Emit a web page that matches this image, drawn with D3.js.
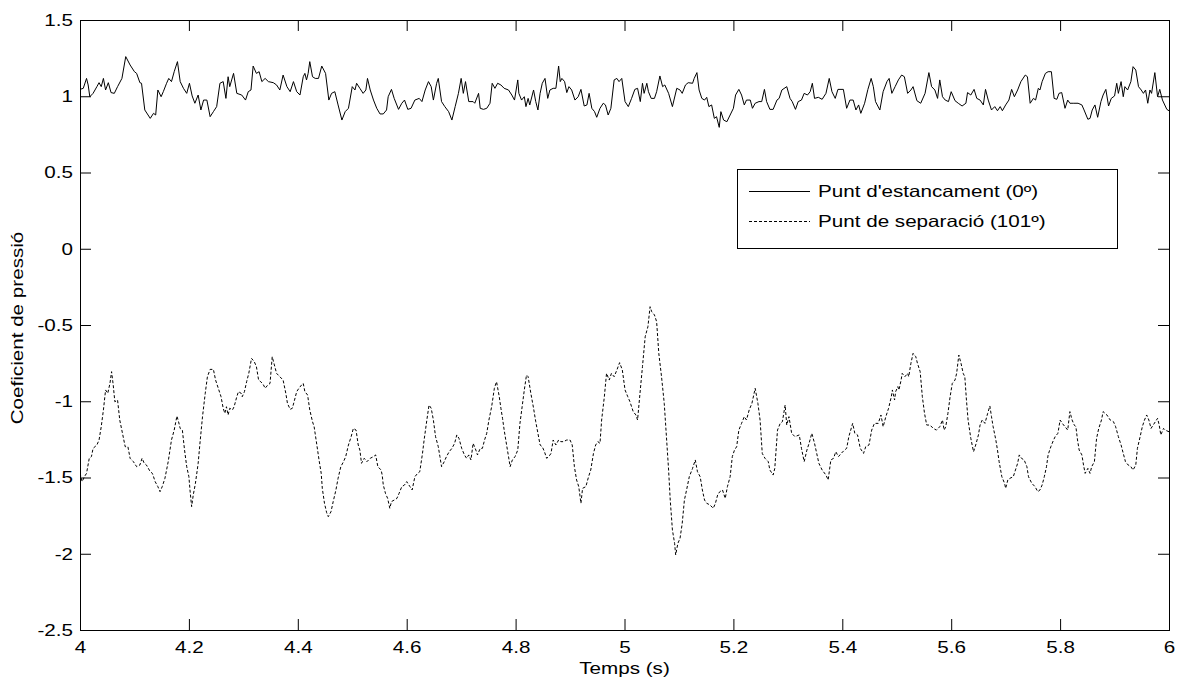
<!DOCTYPE html>
<html>
<head>
<meta charset="utf-8">
<script src="https://cdn.jsdelivr.net/npm/d3@7"></script>
<style>
  html, body { margin: 0; padding: 0; background: #fff; }
  svg { display: block; }
  text { font-family: Arial, "Liberation Sans", Helvetica, sans-serif; fill: #000; }
</style>
</head>
<body>
<svg id="chart" width="1177" height="681"></svg>
<script>
// ---------------- DATA ----------------
const xTicks = [4, 4.2, 4.4, 4.6, 4.8, 5, 5.2, 5.4, 5.6, 5.8, 6];
const yTicks = [-2.5, -2, -1.5, -1, -0.5, 0, 0.5, 1, 1.5];
const seriesNames = ["Punt d'estancament (0º)", "Punt de separació (101º)"];
const xLabel = "Temps (s)";
const yLabel = "Coeficient de pressió";

// Stagnation point (0º) : time (s) and pressure coefficient
const tStag = [
4.000,4.006,4.012,4.015,4.018,4.024,4.031,4.035,4.039,4.043,4.047,4.052,4.057,4.063,4.069,4.077,4.084,4.092,4.100,4.104,
4.110,4.113,4.119,4.129,4.135,4.139,4.143,4.149,4.153,4.159,4.163,4.168,4.173,4.179,4.184,4.190,4.196,4.201,4.206,4.211,
4.217,4.222,4.227,4.233,4.239,4.245,4.251,4.257,4.263,4.268,4.272,4.275,4.282,4.288,4.297,4.304,4.309,4.314,4.318,4.324,
4.329,4.334,4.340,4.346,4.355,4.361,4.367,4.373,4.380,4.386,4.392,4.398,4.404,4.410,4.413,4.416,4.419,4.422,4.427,4.432,
4.438,4.444,4.451,4.457,4.462,4.468,4.474,4.481,4.487,4.493,4.500,4.505,
4.508,4.514,4.520,4.525,4.528,4.533,4.539,4.545,4.551,4.557,
4.563,4.566,4.572,4.577,4.585,4.591,4.596,4.602,4.608,4.615,
4.623,4.628,4.634,4.640,4.645,4.649,4.655,4.658,4.664,4.670,
4.677,4.683,4.689,4.695,4.700,4.704,4.708,4.714,4.722,4.725,
4.732,4.735,4.741,4.747,4.753,4.757,4.762,4.767,4.773,4.779,
4.787,4.793,4.798,4.804,4.806,4.811,4.816,4.819,4.823,4.826,
4.833,4.837,4.841,4.845,4.849,4.854,4.859,4.863,4.869,4.874,
4.879,4.882,4.885,4.890,4.894,4.898,4.903,4.909,4.915,4.920,
4.926,4.931,4.935,4.940,4.945,4.949,4.955,4.961,4.965,4.970,
4.975,4.981,4.986,4.990,4.995,5.001,
5.007,5.013,5.019,5.024,5.029,5.033,5.036,5.041,5.044,5.049,
5.055,5.059,5.065,5.070,5.074,5.081,5.088,5.096,5.102,5.106,
5.112,5.117,5.125,5.128,5.133,5.137,5.142,5.147,5.151,5.155,
5.160,5.165,5.169,5.174,5.177,5.182,5.188,5.194,5.200,5.204,
5.210,5.215,5.220,5.224,5.231,5.235,5.240,5.247,5.252,5.257,
5.261,5.267,5.273,5.280,5.284,5.289,5.298,5.304,5.308,5.314,
5.319,5.325,5.330,5.336,5.341,5.345,5.349,5.356,5.363,5.370,
5.376,5.381,5.387,5.392,5.402,5.408,5.414,5.420,5.425,5.430,
5.434,5.441,5.447,5.453,5.457,5.461,5.469,5.475,5.482,5.486,
5.491,5.497,
5.503,5.509,5.514,5.520,5.526,5.530,5.537,5.544,5.552,5.559,
5.564,5.570,5.575,5.579,5.584,5.589,5.595,5.600,5.607,5.613,
5.620,5.627,5.630,5.636,5.642,5.647,5.653,5.659,5.663,5.668,
5.674,5.680,5.685,5.690,5.694,5.700,5.706,5.711,5.716,5.722,
5.728,5.736,5.740,5.745,5.751,5.755,5.760,5.763,5.767,5.773,
5.778,5.784,5.789,5.794,5.798,5.803,5.809,5.814,5.818,5.824,
5.833,5.840,5.844,5.851,5.855,5.859,5.864,5.869,5.875,5.879,
5.884,5.889,5.894,5.900,5.904,5.907,5.912,5.916,5.919,5.924,
5.930,5.934,5.939,5.944,5.949,5.953,5.957,5.961,5.965,5.968,
5.974,5.979,5.983,5.988,5.996,6.000
];
const cpStag = [
1.045,1.052,1.117,1.074,0.997,1.019,1.063,1.089,1.063,1.117,1.041,1.089,1.024,1.019,1.063,1.117,1.260,1.205,1.161,1.150,
1.089,1.085,0.910,0.855,0.888,0.877,1.041,0.997,1.030,1.085,1.117,1.096,1.161,1.227,1.096,1.052,1.019,1.085,1.002,0.954,
1.008,0.910,0.975,0.975,0.866,0.899,0.932,1.085,1.096,0.986,1.128,1.063,1.150,1.019,1.008,0.975,1.030,1.041,1.198,1.150,
1.161,1.096,1.117,1.096,1.089,1.074,1.041,1.139,1.063,1.030,1.096,1.030,1.008,1.128,1.150,1.107,1.150,1.227,1.128,1.117,
1.117,1.198,1.150,0.975,1.019,1.030,0.943,0.844,0.899,0.921,1.063,1.041,
1.085,1.052,1.019,1.041,1.117,1.041,0.975,0.921,0.884,0.884,
0.910,0.997,1.045,0.986,0.914,0.954,0.975,0.914,0.921,0.975,
0.986,0.965,1.041,1.096,1.063,0.975,1.085,1.117,0.965,0.932,
0.899,0.844,0.932,1.019,1.117,1.019,1.096,0.965,0.965,0.954,
1.019,0.921,0.914,0.921,0.954,1.085,1.052,1.085,1.074,1.052,
1.041,1.008,0.975,1.107,1.019,0.975,0.997,0.932,0.986,0.943,
1.041,0.965,0.910,1.019,1.085,1.117,0.986,1.041,1.052,1.052,
1.198,1.096,1.117,1.096,1.024,1.063,1.041,0.975,0.997,1.045,
0.936,0.943,1.019,0.921,0.899,0.862,0.921,0.954,0.943,0.877,
0.921,1.107,1.117,1.096,1.117,0.965,
0.932,0.986,1.045,1.052,0.965,1.085,1.019,1.085,1.030,0.986,
0.986,1.030,1.133,1.063,1.074,1.019,0.932,1.052,1.041,1.019,
1.074,1.089,1.085,1.117,1.155,1.041,0.986,0.975,0.993,0.932,
0.943,0.855,0.866,0.796,0.899,0.844,0.833,0.877,0.921,1.008,
1.045,1.008,0.943,0.975,0.975,0.921,0.954,0.965,0.965,1.045,
0.965,0.914,0.914,0.975,0.986,1.041,1.063,0.986,0.965,0.914,
0.965,0.975,1.019,1.008,1.030,1.085,0.986,0.993,0.980,1.019,
1.117,1.030,0.986,1.045,1.045,0.921,0.975,0.975,0.910,0.943,
0.888,0.954,1.045,1.117,1.063,0.965,0.910,1.030,1.096,1.117,
1.019,1.063,
1.107,1.139,1.128,1.019,1.041,1.063,0.971,0.954,1.019,1.155,
1.063,1.041,0.986,1.107,0.997,0.975,0.965,1.030,0.971,0.954,
0.936,0.954,1.024,1.008,1.045,0.986,0.975,0.943,1.045,0.975,
0.910,0.932,0.905,0.932,0.905,0.943,0.975,1.045,0.997,1.041,
1.096,1.139,1.128,0.954,0.986,0.975,1.052,1.041,1.096,1.150,
1.161,1.161,0.986,0.980,1.019,1.024,0.921,0.975,0.954,0.954,
0.954,0.943,0.910,0.849,0.855,0.910,0.943,0.862,0.965,1.008,
1.045,0.936,0.986,1.002,1.085,1.019,1.096,0.997,1.063,1.041,
1.096,1.194,1.172,1.063,1.041,1.019,1.041,0.954,1.041,1.019,
1.155,0.997,1.045,0.975,0.914,0.905
];

// Separation point (101º) : time (s) and pressure coefficient
const tSep = [
4.000,4.004,4.008,4.012,4.017,4.021,4.024,4.031,4.035,4.039,
4.043,4.047,4.051,4.055,4.058,4.061,4.064,4.069,4.073,4.078,
4.083,4.088,4.092,4.098,4.104,4.110,4.114,4.118,4.122,4.129,
4.133,4.138,4.143,4.147,4.151,4.156,4.162,4.168,4.173,4.178,
4.181,4.184,4.188,4.192,4.196,4.200,4.202,4.205,4.208,4.212,
4.217,4.220,4.225,4.230,4.234,4.239,4.245,4.249,4.254,4.259,
4.263,4.266,4.269,4.272,4.275,4.280,4.283,4.288,4.291,4.296,
4.298,4.302,4.306,4.310,4.315,4.320,4.324,4.328,4.332,4.337,
4.340,4.345,4.349,4.353,4.357,4.361,4.367,4.373,4.378,4.381,
4.386,4.390,4.394,4.398,4.402,4.407,4.410,4.413,4.418,4.422,
4.427,4.430,4.435,4.439,4.443,4.445,4.449,4.453,4.456,4.461,
4.465,4.470,4.474,4.479,4.484,4.488,4.493,4.498,4.502,
4.507,4.511,4.514,4.517,4.522,4.527,4.533,4.539,4.543,4.547,
4.553,4.555,4.557,4.561,4.565,4.569,4.572,4.577,4.582,4.586,
4.591,4.596,4.600,4.606,4.610,4.615,4.620,4.624,4.629,4.632,
4.637,4.641,4.645,4.649,4.653,4.658,4.661,4.664,4.669,4.673,
4.678,4.683,4.688,4.692,4.696,4.701,4.706,4.710,4.714,4.718,
4.722,4.727,4.730,4.735,4.739,4.743,4.747,4.751,4.756,4.761,
4.765,4.770,4.773,4.776,4.779,4.784,4.787,4.790,4.794,4.799,
4.804,4.808,4.812,4.816,4.820,4.823,4.828,4.833,4.837,4.841,
4.845,4.849,4.853,4.857,4.861,4.865,4.869,4.874,4.879,4.883,
4.888,4.894,4.900,4.904,4.908,4.912,4.916,4.920,4.923,4.929,
4.934,4.938,4.943,4.947,4.951,4.955,4.958,4.963,4.967,4.972,
4.976,4.981,4.986,
4.991,4.996,5.001,5.006,5.010,5.016,5.021,5.024,5.029,5.033,
5.038,5.043,5.047,5.050,5.055,5.059,5.063,5.068,5.073,5.077,
5.081,5.084,5.088,5.092,5.094,5.098,5.102,5.106,5.110,5.114,
5.119,5.125,5.130,5.134,5.139,5.143,5.147,5.151,5.157,5.163,
5.167,5.171,5.175,5.180,5.185,5.189,5.194,5.198,5.202,5.206,
5.210,5.215,5.220,5.224,5.229,5.234,5.240,5.245,5.249,5.253,
5.258,5.264,5.267,5.273,5.276,5.281,5.286,5.290,5.295,5.298,
5.302,5.307,5.313,5.321,5.325,5.330,5.335,5.339,5.344,5.349,
5.353,5.357,5.363,5.370,5.374,5.379,5.384,5.388,5.393,5.398,
5.404,5.408,5.412,5.419,5.423,5.428,5.433,5.439,5.443,5.449,
5.454,5.459,5.466,5.471,5.475,5.480,5.485,5.490,5.492,5.496,
5.498,5.502,5.504,5.508,5.510,5.515,5.520,5.522,5.526,5.530,
5.535,5.538,5.543,5.547,5.551,5.555,5.561,5.567,5.573,5.579,
5.584,5.587,5.590,5.594,5.598,5.602,5.607,5.610,5.614,5.618,
5.622,5.625,5.628,5.631,5.636,5.641,5.645,5.650,5.653,5.657,
5.662,5.667,5.671,5.674,5.677,5.682,5.685,5.688,5.693,5.698,
5.700,5.704,5.708,5.714,5.718,5.722,5.725,5.729,5.734,5.739,
5.742,5.748,5.754,5.759,5.763,5.767,5.771,5.775,5.778,5.783,
5.788,5.791,5.796,5.800,5.804,5.809,5.814,5.818,5.822,5.826,
5.829,5.832,5.835,5.840,5.843,5.846,5.851,5.855,5.858,5.863,
5.867,5.871,5.876,5.879,5.886,5.892,5.898,5.902,5.907,5.912,
5.916,5.920,5.925,5.930,5.934,5.939,5.942,5.947,5.951,5.955,
5.959,5.963,5.967,5.971,5.975,5.979,5.982,5.985,5.990,5.993,
6.000
];
const cpSep = [
-1.473,-1.527,-1.495,-1.473,-1.374,-1.363,-1.309,-1.287,-1.254,-1.167,
-1.057,-0.926,-0.948,-0.883,-0.806,-0.893,-1.003,-0.992,-1.123,-1.210,
-1.298,-1.298,-1.374,-1.396,-1.429,-1.418,-1.374,-1.407,-1.418,-1.462,
-1.473,-1.527,-1.560,-1.593,-1.560,-1.505,-1.396,-1.254,-1.189,-1.097,
-1.134,-1.178,-1.189,-1.320,-1.429,-1.495,-1.582,-1.691,-1.615,-1.538,
-1.407,-1.287,-1.101,-0.948,-0.839,-0.791,-0.791,-0.861,-0.915,-0.970,
-1.046,-1.079,-1.036,-1.090,-1.046,-1.057,-1.036,-0.970,-0.937,-0.948,
-0.970,-0.937,-0.872,-0.817,-0.719,-0.740,-0.773,-0.861,-0.872,-0.893,
-0.915,-0.893,-0.883,-0.708,-0.762,-0.817,-0.839,-0.861,-0.948,-1.014,
-1.053,-1.046,-0.992,-0.937,-0.915,-0.893,-0.883,-0.937,-0.959,-1.057,
-1.134,-1.167,-1.287,-1.385,-1.473,-1.571,-1.669,-1.731,-1.757,-1.724,
-1.658,-1.582,-1.505,-1.429,-1.396,-1.363,-1.287,-1.232,-1.178,
-1.189,-1.287,-1.320,-1.407,-1.374,-1.396,-1.374,-1.363,-1.352,-1.429,
-1.451,-1.484,-1.549,-1.604,-1.637,-1.702,-1.658,-1.648,-1.637,-1.604,
-1.560,-1.549,-1.527,-1.560,-1.582,-1.495,-1.473,-1.462,-1.342,-1.254,
-1.123,-1.025,-1.046,-1.123,-1.232,-1.298,-1.363,-1.429,-1.396,-1.363,
-1.331,-1.309,-1.276,-1.221,-1.243,-1.309,-1.352,-1.374,-1.352,-1.385,
-1.276,-1.320,-1.352,-1.309,-1.309,-1.254,-1.210,-1.123,-1.036,-0.915,
-0.872,-0.970,-1.046,-1.112,-1.189,-1.298,-1.363,-1.429,-1.385,-1.363,
-1.320,-1.145,-1.036,-0.926,-0.828,-0.839,-0.948,-1.046,-1.134,-1.210,
-1.287,-1.298,-1.331,-1.374,-1.363,-1.342,-1.254,-1.287,-1.254,-1.265,
-1.265,-1.254,-1.254,-1.287,-1.429,-1.516,-1.560,-1.669,-1.571,-1.560,
-1.495,-1.451,-1.342,-1.287,-1.265,-1.276,-1.123,-0.970,-0.817,-0.861,
-0.817,-0.839,-0.795,
-0.747,-0.795,-0.926,-0.970,-1.003,-1.068,-1.090,-1.123,-0.926,-0.773,
-0.577,-0.511,-0.380,-0.413,-0.434,-0.478,-0.686,-0.839,-1.014,-1.232,
-1.451,-1.648,-1.844,-1.932,-2.008,-1.932,-1.899,-1.801,-1.648,-1.582,
-1.495,-1.440,-1.385,-1.462,-1.495,-1.582,-1.648,-1.669,-1.680,-1.702,
-1.669,-1.615,-1.593,-1.582,-1.637,-1.560,-1.495,-1.363,-1.320,-1.298,
-1.189,-1.145,-1.101,-1.123,-1.057,-1.014,-0.915,-1.014,-1.123,-1.342,
-1.374,-1.396,-1.451,-1.484,-1.440,-1.189,-1.145,-1.134,-1.025,-1.156,
-1.101,-1.210,-1.232,-1.221,-1.309,-1.396,-1.320,-1.276,-1.210,-1.276,
-1.342,-1.407,-1.451,-1.484,-1.516,-1.385,-1.374,-1.331,-1.363,-1.342,
-1.320,-1.309,-1.232,-1.145,-1.210,-1.221,-1.309,-1.342,-1.298,-1.287,
-1.189,-1.145,-1.145,-1.090,-1.167,-1.101,-1.046,-0.970,-0.926,-0.992,
-0.937,-0.904,-0.926,-0.861,-0.817,-0.839,-0.817,-0.839,-0.751,-0.686,
-0.708,-0.751,-0.806,-0.970,-1.079,-1.156,-1.156,-1.178,-1.189,-1.167,
-1.123,-1.189,-1.167,-1.079,-0.970,-0.883,-0.861,-0.817,-0.697,-0.751,
-0.817,-0.839,-0.992,-1.123,-1.243,-1.331,-1.287,-1.221,-1.156,-1.123,
-1.145,-1.079,-1.031,-1.101,-1.167,-1.254,-1.320,-1.396,-1.495,-1.538,
-1.571,-1.516,-1.505,-1.495,-1.451,-1.407,-1.352,-1.374,-1.385,-1.429,
-1.495,-1.538,-1.560,-1.593,-1.582,-1.549,-1.495,-1.429,-1.352,-1.298,
-1.254,-1.232,-1.210,-1.123,-1.145,-1.167,-1.189,-1.068,-1.123,-1.156,
-1.167,-1.254,-1.320,-1.352,-1.418,-1.473,-1.440,-1.473,-1.429,-1.396,
-1.243,-1.178,-1.123,-1.068,-1.090,-1.123,-1.134,-1.167,-1.232,-1.287,
-1.342,-1.396,-1.418,-1.429,-1.451,-1.418,-1.309,-1.232,-1.167,-1.123,
-1.090,-1.123,-1.178,-1.156,-1.134,-1.112,-1.156,-1.221,-1.178,-1.189,
-1.200
];

// ---------------- CHART ----------------
const svg = d3.select("#chart");
const plot = { left: 80, right: 1169, top: 20, bottom: 630 };
const x = d3.scaleLinear().domain([4, 6]).range([plot.left, plot.right]);
const y = d3.scaleLinear().domain([-2.5, 1.5]).range([plot.bottom, plot.top]);
const tickLen = 11;
const fontSize = 16.5;
const widen = 1.25;   // glyphs in the reference are wider than plain Arial
const fmt = d => String(d);

svg.append("rect").attr("width", 1177).attr("height", 681).attr("fill", "#fff");

function styleAxis(g, showText) {
  g.select(".domain").remove();
  g.selectAll(".tick line").attr("stroke", "#000").attr("stroke-width", 1);
  g.selectAll(".tick text").attr("font-size", fontSize).attr("class", "wide")
    .attr("font-family", "Arial, 'Liberation Sans', Helvetica, sans-serif").attr("fill", "#000");
  if (!showText) g.selectAll(".tick text").remove();
}

svg.append("g").attr("transform", `translate(0,${plot.bottom})`)
  .call(d3.axisBottom(x).tickValues(xTicks).tickFormat(fmt).tickSize(-tickLen).tickPadding(11))
  .call(g => styleAxis(g, true));
svg.append("g").attr("transform", `translate(0,${plot.top})`)
  .call(d3.axisTop(x).tickValues(xTicks).tickSize(-tickLen))
  .call(g => styleAxis(g, false));
svg.append("g").attr("transform", `translate(${plot.left},0)`)
  .call(d3.axisLeft(y).tickValues(yTicks).tickFormat(fmt).tickSize(-tickLen).tickPadding(7))
  .call(g => styleAxis(g, true));
svg.append("g").attr("transform", `translate(${plot.right},0)`)
  .call(d3.axisRight(y).tickValues(yTicks).tickSize(-tickLen))
  .call(g => styleAxis(g, false));

// box
svg.append("rect")
  .attr("x", plot.left + 0.5).attr("y", plot.top + 0.5)
  .attr("width", plot.right - plot.left).attr("height", plot.bottom - plot.top)
  .attr("fill", "none").attr("stroke", "#000").attr("stroke-width", 1);

svg.append("clipPath").attr("id", "clip").append("rect")
  .attr("x", plot.left).attr("y", plot.top)
  .attr("width", plot.right - plot.left + 1).attr("height", plot.bottom - plot.top);

const line = d3.line().x(d => x(d[0])).y(d => y(d[1]));
const stag = tStag.map((t, i) => [t, cpStag[i]]);
const sep = tSep.map((t, i) => [t, cpSep[i]]);

const lines = svg.append("g").attr("clip-path", "url(#clip)");
lines.append("path").datum(stag).attr("d", line)
  .attr("fill", "none").attr("stroke", "#000").attr("stroke-width", 1);
lines.append("path").datum(sep).attr("d", line)
  .attr("fill", "none").attr("stroke", "#000").attr("stroke-width", 1)
  .attr("stroke-dasharray", "3,2");

// axis titles
svg.append("text").attr("class", "wide").attr("x", (plot.left + plot.right) / 2).attr("y", 674)
  .attr("text-anchor", "middle").attr("font-size", fontSize).text(xLabel);
svg.append("text").attr("class", "wide")
  .attr("transform", `translate(23,${(plot.top + plot.bottom) / 2 + 3}) rotate(-90)`)
  .attr("text-anchor", "middle").attr("font-size", fontSize).text(yLabel);

// legend
const lg = svg.append("g");
lg.append("rect").attr("x", 737.5).attr("y", 169.5).attr("width", 380).attr("height", 79)
  .attr("fill", "#fff").attr("stroke", "#000").attr("stroke-width", 1);
const rows = [{ name: seriesNames[0], dash: null, y: 191 }, { name: seriesNames[1], dash: "3,2", y: 221 }];
rows.forEach(r => {
  lg.append("line").attr("x1", 749).attr("x2", 810).attr("y1", r.y + 0.5).attr("y2", r.y + 0.5)
    .attr("stroke", "#000").attr("stroke-width", 1).attr("stroke-dasharray", r.dash);
  lg.append("text").attr("class", "wide").attr("x", 818).attr("y", r.y + 6)
    .attr("font-size", fontSize).text(r.name);
});

// widen glyphs along the baseline
svg.selectAll("text.wide").each(function () {
  const L = this.getComputedTextLength();
  d3.select(this).attr("textLength", L * widen).attr("lengthAdjust", "spacingAndGlyphs");
});
</script>
</body>
</html>
